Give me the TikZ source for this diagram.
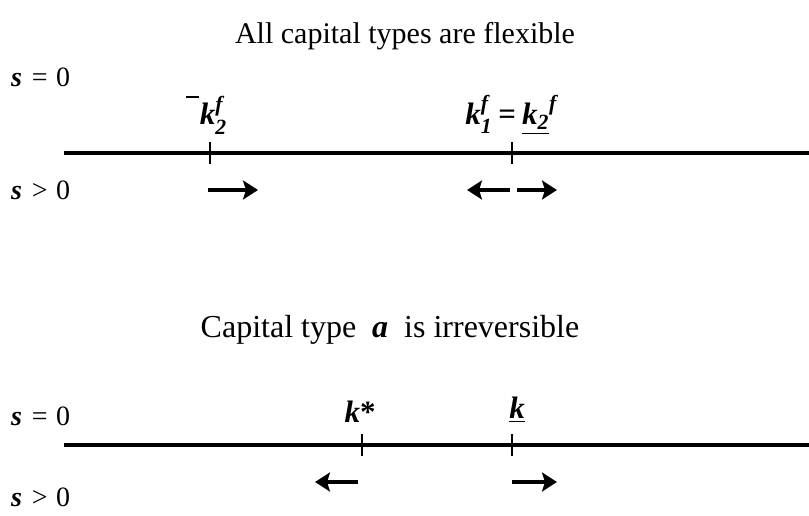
\documentclass[tikz,border=0pt]{standalone}
\usepackage{fontspec}
\usepackage{amsmath}
\setmainfont{Liberation Serif}
\usetikzlibrary{arrows.meta}
\newcommand{\vk}{\textit{\textbf{k}}}
\newcommand{\vs}{\textit{\textbf{s}}}
\newcommand{\vi}[1]{\textit{\textbf{#1}}}
\newcommand{\kbarmark}{\makebox[0pt][r]{\raisebox{0.86em}{\rule{0.42em}{0.09em}}}\hspace{0.02em}}
\begin{document}
\begin{tikzpicture}[x=1pt,y=-1pt,
  axis/.style={line width=3.5pt},
  tickmark/.style={line width=2.8pt},
  flow/.style={line width=3.2pt,-{Stealth[length=15pt,width=19pt,inset=3pt]}},
  lab/.style={font=\fontsize{28}{31}\selectfont, inner sep=0pt},
  klab/.style={font=\fontsize{31}{34}\selectfont, inner sep=0pt},
  ttl/.style={font=\fontsize{30}{34}\selectfont, inner sep=0pt},
  ttlb/.style={font=\fontsize{32}{36}\selectfont, inner sep=0pt}]
\useasboundingbox (0,0) rectangle (809,516);
% ---------- top panel ----------
\node[ttl] (t1) at (405,36) {All capital types are flexible};
\node[lab,anchor=west] (s0a) at (11,77) {\vs\hspace{0.35em}=\hspace{0.3em}0};
\node[lab,anchor=west] (spa) at (11,190) {\vs\hspace{0.35em}>\hspace{0.3em}0};
\coordinate (a1s) at (64,153);
\coordinate (a1e) at (809,153);
\draw[axis] (a1s) -- (a1e);
\coordinate (p1t) at (210,142); \coordinate (p1b) at (210,164);
\coordinate (p2t) at (512,142); \coordinate (p2b) at (512,164);
\draw[tickmark] (p1t) -- (p1b);
\draw[tickmark] (p2t) -- (p2b);
\node[klab] (kbar) at (213,115) {\kbarmark$\vk^{\vi{f}}_{\vi{2}}$};
\node[klab] (keq) at (511,115) {$\vk^{\vi{f}}_{\vi{1}}$\hspace{0.2em}\textbf{=}\hspace{0.2em}$\underline{\vk_{\vi{2}}}^{\vi{f}}$};
\coordinate (r1s) at (208,190); \coordinate (r1e) at (258,190);
\coordinate (l1s) at (510,190); \coordinate (l1e) at (467,190);
\coordinate (r2s) at (517,190); \coordinate (r2e) at (557,190);
\draw[flow] (r1s) -- (r1e);
\draw[flow] (l1s) -- (l1e);
\draw[flow] (r2s) -- (r2e);
% ---------- bottom panel ----------
\node[ttlb] (t2) at (390,330) {Capital type \ \vi{a} \ is irreversible};
\node[lab,anchor=west] (s0b) at (11,416) {\vs\hspace{0.35em}=\hspace{0.3em}0};
\node[lab,anchor=west] (spb) at (11,497) {\vs\hspace{0.35em}>\hspace{0.3em}0};
\coordinate (a2s) at (64,445);
\coordinate (a2e) at (809,445);
\draw[axis] (a2s) -- (a2e);
\coordinate (q1t) at (362,434); \coordinate (q1b) at (362,456);
\coordinate (q2t) at (512,434); \coordinate (q2b) at (512,456);
\draw[tickmark] (q1t) -- (q1b);
\draw[tickmark] (q2t) -- (q2b);
\node[klab] (kstar) at (360,412) {\vk\textbf{*}};
\node[klab] (kund) at (517,410) {$\underline{\vk}$};
\coordinate (l2s) at (358,482); \coordinate (l2e) at (315,482);
\coordinate (r3s) at (512,482); \coordinate (r3e) at (557,482);
\draw[flow] (l2s) -- (l2e);
\draw[flow] (r3s) -- (r3e);
\end{tikzpicture}
\end{document}
